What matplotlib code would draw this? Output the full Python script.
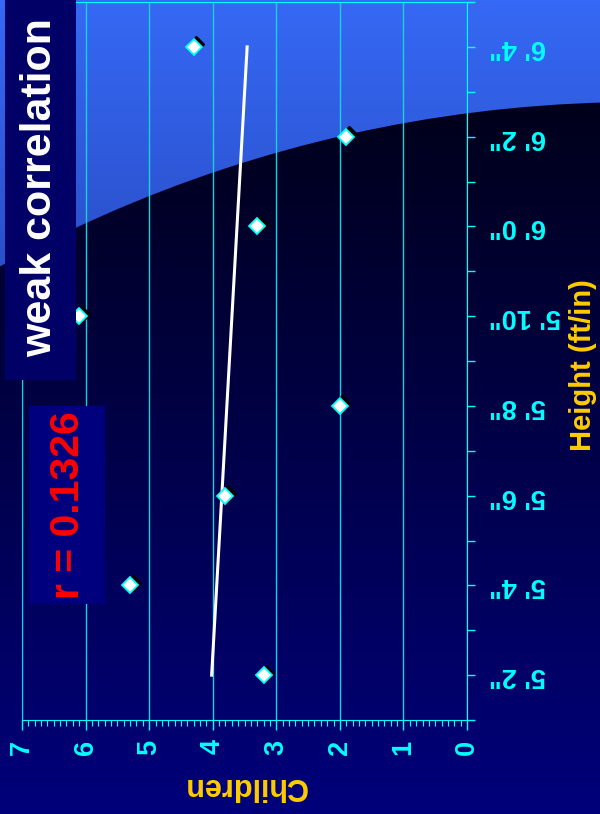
import numpy as np
import matplotlib.pyplot as plt
from matplotlib.patches import Circle, Rectangle
from matplotlib.ticker import MultipleLocator
from matplotlib.transforms import offset_copy

# height (inches) against number of children
heights = [62, 64, 66, 68, 70, 72, 74, 76]
children = [3.2, 5.3, 3.8, 2.0, 6.1, 3.3, 1.9, 4.3]

height_ticks = [62, 64, 66, 68, 70, 72, 74, 76]
height_labels = ['5\' 2"', '5\' 4"', '5\' 6"', '5\' 8"', '5\' 10"', '6\' 0"', '6\' 2"', '6\' 4"']
children_ticks = [0, 1, 2, 3, 4, 5, 6, 7]
r_text = 'r = 0.1326'

CYAN = '#00FFFF'
GRID = '#14D2E2'
GOLD = '#FFCC00'

plt.rcParams['font.family'] = ['Liberation Sans', 'DejaVu Sans']
plt.rcParams['font.weight'] = 'bold'

W, H = 600, 814
fig = plt.figure(figsize=(W / 100, H / 100), dpi=100)

# slide background: blue sky with a big dark disc
bg = fig.add_axes([0, 0, 1, 1], zorder=0)
t = np.linspace(0, 1, 256)[:, None, None]
blue = np.array([0.21, 0.41, 0.96]) + (np.array([0.16, 0.30, 0.77]) - np.array([0.21, 0.41, 0.96])) * t
bg.imshow(blue, extent=(0, W, 300, 0), aspect='auto', interpolation='bilinear')
disc = Circle((640, 1430), 1328, transform=bg.transData, facecolor='none', edgecolor='none')
bg.add_patch(disc)
dark = np.array([0.0, 0.0, 0.10]) + (np.array([0.0, 0.0, 0.48]) - np.array([0.0, 0.0, 0.10])) * t
im = bg.imshow(dark, extent=(0, W, H, 95), aspect='auto', interpolation='bilinear')
im.set_clip_path(disc)
bg.set_xlim(0, W)
bg.set_ylim(H, 0)
bg.axis('off')

# scatter chart
ax = fig.add_axes([22 / W, 1 - 720 / H, 445 / W, 718 / H], zorder=1)
ax.patch.set_visible(False)
ax.set_xlim(7, 0)
ax.set_ylim(61, 77)

ax.set_xticks(children_ticks)
ax.xaxis.set_minor_locator(MultipleLocator(0.1))
ax.tick_params(axis='x', which='major', direction='out', length=7, width=1, color=CYAN,
               labelcolor=CYAN, labelsize=19.5, labelrotation=90, pad=7)
ax.tick_params(axis='x', which='minor', direction='out', length=4, width=0.8, color=CYAN)

ax.yaxis.tick_right()
ax.set_yticks(height_ticks)
ax.set_yticklabels(height_labels)
ax.yaxis.set_minor_locator(MultipleLocator(1))
ax.tick_params(axis='y', which='both', direction='out', length=6, width=1, color=CYAN,
               labelcolor=CYAN, labelsize=19.5, pad=10)
for lbl in ax.get_yticklabels():
    lbl.set_rotation(180)
    lbl.set_ha('left')
    lbl.set_va('center')

ax.grid(axis='x', which='major', color=GRID, lw=1)
for side in ['top', 'right', 'bottom']:
    ax.spines[side].set_color(CYAN)
ax.spines['left'].set_color(GRID)

# trend line of children on height
slope, intercept = np.polyfit(heights, children, 1)
h_ends = np.array([min(heights), max(heights)])
ax.plot(slope * h_ends + intercept, h_ends, color='white', lw=2.2, zorder=3)

shadow = offset_copy(ax.transData, fig=fig, x=2.5, y=2.5, units='dots')
ax.plot(children, heights, 'D', ms=8, color='black', transform=shadow, zorder=4)
ax.plot(children, heights, 'D', ms=8, mfc='white', mec=CYAN, mew=1.3, zorder=5)

fig.text(245 / W, 1 - 786 / H, 'Children', rotation=180, color=GOLD, fontsize=22,
         ha='center', va='center')
fig.text(583 / W, 1 - 365 / H, 'Height (ft/in)', rotation=90, color=GOLD, fontsize=21,
         ha='center', va='center')

# caption boxes over the chart
top = fig.add_axes([0, 0, 1, 1], zorder=2)
top.patch.set_visible(False)
top.set_xlim(0, W)
top.set_ylim(H, 0)
top.axis('off')
top.add_patch(Rectangle((5, 0), 71, 380, facecolor='#000066', edgecolor='none'))
top.text(40, 188, 'weak correlation', rotation=90, color='white', fontsize=31,
         ha='center', va='center')
top.add_patch(Rectangle((29, 406), 76, 198, facecolor='#00007E', edgecolor='none'))
top.text(68, 505, r_text, rotation=90, color='#FF0000', fontsize=29.5,
         ha='center', va='center')

fig.savefig('out.png', dpi=100)
